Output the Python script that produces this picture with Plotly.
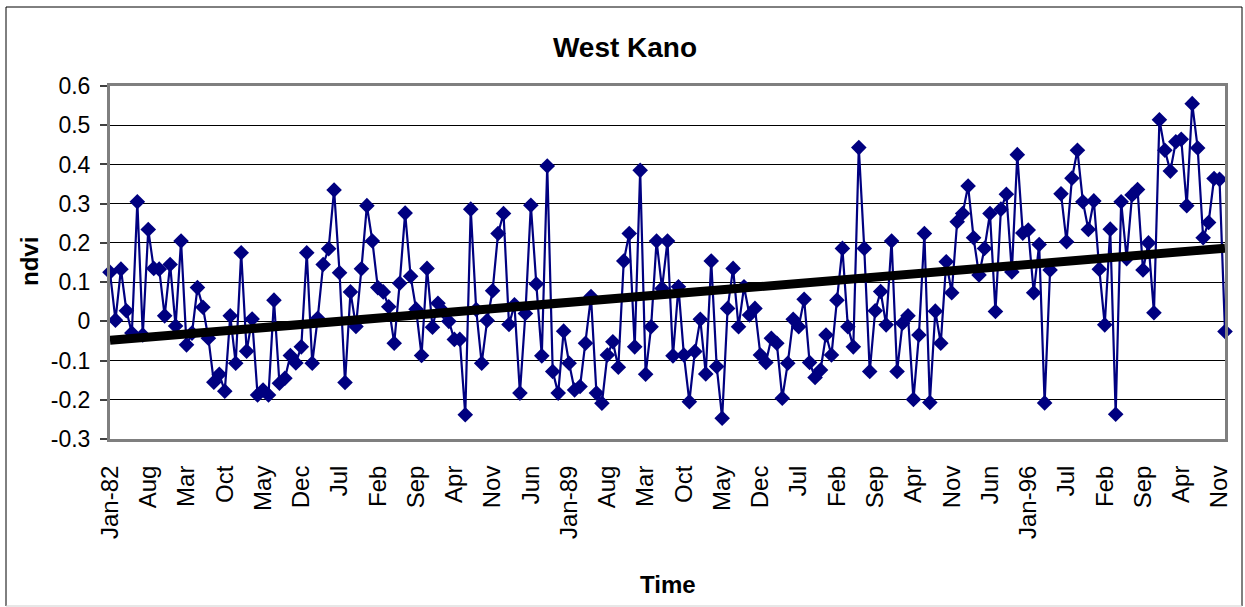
import numpy as np
import plotly.graph_objects as go

# ---------------- data ----------------
ndvi_part1 = [0.125, 0.003, 0.133, 0.027, -0.030, 0.305, -0.035, 0.234, 0.135, 0.133,
              0.014, 0.145, -0.012, 0.205, -0.060, -0.030, 0.086, 0.036, -0.043, -0.155,
              -0.135, -0.178, 0.014, -0.107, 0.175, -0.076, 0.006, -0.188, -0.175, -0.188,
              0.054, -0.158, -0.145, -0.087, -0.106, -0.065, 0.175, -0.107, 0.008, 0.145]
ndvi_part2 = [0.185, 0.335, 0.124, -0.156, 0.075, -0.013, 0.134, 0.295, 0.205, 0.086,
              0.075, 0.037, -0.056, 0.097, 0.276, 0.115, 0.031, -0.087, 0.135, -0.015,
              0.046, 0.025, 0.000, -0.046, -0.046, -0.238, 0.286, 0.030, -0.107, 0.002,
              0.078, 0.224, 0.275, -0.008, 0.042, -0.183, 0.020, 0.296, 0.095, -0.088]
ndvi_part3 = [0.396, -0.128, -0.183, -0.025, -0.107, -0.175, -0.166, -0.056, 0.063, -0.183,
              -0.209, -0.086, -0.052, -0.117, 0.154, 0.224, -0.065, 0.385, -0.135, -0.014,
              0.205, 0.084, 0.205, -0.088, 0.088, -0.086, -0.205, -0.077, 0.005, -0.134,
              0.154, -0.115, -0.247, 0.033, 0.135, -0.014, 0.088, 0.016, 0.033, -0.086]
ndvi_part4 = [-0.105, -0.043, -0.056, -0.196, -0.107, 0.005, -0.014, 0.056, -0.105, -0.143,
              -0.124, -0.035, -0.086, 0.054, 0.186, -0.014, -0.065, 0.443, 0.186, -0.128,
              0.027, 0.076, -0.009, 0.205, -0.128, -0.005, 0.014, -0.199, -0.035, 0.224,
              -0.207, 0.026, -0.056, 0.152, 0.073, 0.254, 0.275, 0.345, 0.213, 0.118]
ndvi_part5 = [0.186, 0.275, 0.025, 0.286, 0.324, 0.126, 0.425, 0.225, 0.233, 0.073,
              0.196, -0.208, 0.131, None, 0.325, 0.203, 0.365, 0.436, 0.305, 0.234,
              0.307, 0.133, -0.009, 0.235, -0.237, 0.305, 0.160, 0.322, 0.336, 0.131,
              0.200, 0.022, 0.514, 0.436, 0.383, 0.458, 0.464, 0.295, 0.555, 0.442,
              0.213, 0.252, 0.364, 0.362, -0.026]

ndvi = ndvi_part1 + ndvi_part2 + ndvi_part3 + ndvi_part4 + ndvi_part5

x_tick_labels = ["Jan-82", "Aug", "Mar", "Oct", "May", "Dec", "Jul", "Feb", "Sep", "Apr",
                 "Nov", "Jun", "Jan-89", "Aug", "Mar", "Oct", "May", "Dec", "Jul", "Feb",
                 "Sep", "Apr", "Nov", "Jun", "Jan-96", "Jul", "Feb", "Sep", "Apr", "Nov"]
y_tick_values = [-0.3, -0.2, -0.1, 0.0, 0.1, 0.2, 0.3, 0.4, 0.5, 0.6]
y_tick_labels = ["-0.3", "-0.2", "-0.1", "0", "0.1", "0.2", "0.3", "0.4", "0.5", "0.6"]

chart_title = "West Kano"
x_title = "Time"
y_title = "ndvi"

# ---------------- derived ----------------
idx = list(range(len(ndvi)))
tick_pos = list(range(0, len(ndvi), 7))[:len(x_tick_labels)]

valid = [(i, v) for i, v in zip(idx, ndvi) if v is not None]
vx = np.array([p[0] for p in valid], dtype=float)
vy = np.array([p[1] for p in valid], dtype=float)
slope, intercept = np.polyfit(vx, vy, 1)
trend_x = [idx[0], idx[-1]]
trend_y = [intercept + slope * t for t in trend_x]

FONT = "Liberation Sans, Arial, Helvetica, sans-serif"

fig = go.Figure()
fig.add_trace(go.Scatter(
    x=idx, y=ndvi, mode="lines+markers",
    line=dict(color="#000080", width=2.2),
    marker=dict(symbol="diamond", size=12, color="#000080"),
    connectgaps=False, cliponaxis=False, showlegend=False,
))
fig.add_trace(go.Scatter(
    x=trend_x, y=trend_y, mode="lines",
    line=dict(color="black", width=9),
    cliponaxis=False, showlegend=False, hoverinfo="skip",
))

L, R, T, B = 110, 20, 86, 168
W, H = 1245, 607
pw, ph = W - L - R, H - T - B


def px(xp):
    return (xp - L) / pw


def py(yp):
    return (H - B - yp) / ph


fig.update_layout(
    width=W, height=H,
    margin=dict(l=L, r=R, t=T, b=B, pad=0),
    paper_bgcolor="white", plot_bgcolor="white",
    font=dict(family=FONT, color="black"),
    title=dict(text=chart_title, x=625 / W, xref="container", xanchor="center",
               y=1 - 47 / H, yref="container", yanchor="middle",
               font=dict(size=28, family=FONT, color="black", weight="bold")),
    xaxis=dict(
        range=[idx[0], idx[-1]], tickmode="array", tickvals=tick_pos, ticktext=x_tick_labels,
        tickangle=-90, tickfont=dict(size=24, family=FONT, color="black"),
        showgrid=False, zeroline=False, ticks="", ticklabelstandoff=14,
        showline=True, linecolor="#7f7f7f", linewidth=3, mirror=True,
    ),
    yaxis=dict(
        range=[-0.3, 0.6], tickmode="array", tickvals=y_tick_values, ticktext=y_tick_labels,
        tickfont=dict(size=23, family=FONT, color="black"),
        showgrid=True, gridcolor="black", gridwidth=1, zeroline=False,
        ticks="outside", ticklen=7, tickwidth=1.5, tickcolor="#404040", ticklabelstandoff=5,
        showline=True, linecolor="#7f7f7f", linewidth=3, mirror=True,
    ),
    annotations=[
        dict(text=x_title, x=px(667.5), y=py(584), xref="paper", yref="paper",
             showarrow=False, xanchor="center", yanchor="middle",
             font=dict(size=24, family=FONT, color="black", weight="bold")),
        dict(text=y_title, x=px(29), y=py(262), xref="paper", yref="paper",
             showarrow=False, xanchor="center", yanchor="middle", textangle=-90,
             font=dict(size=24, family=FONT, color="black", weight="bold")),
    ],
    shapes=[
        dict(type="line", xref="paper", yref="paper", x0=px(6), x1=px(6), y0=py(7), y1=py(606),
             line=dict(color="black", width=1)),
        dict(type="line", xref="paper", yref="paper", x0=px(6), x1=px(1242), y0=py(7), y1=py(7),
             line=dict(color="black", width=1)),
        dict(type="line", xref="paper", yref="paper", x0=px(1242), x1=px(1242), y0=py(7), y1=py(606),
             line=dict(color="black", width=1)),
        dict(type="line", xref="paper", yref="paper", x0=px(6), x1=px(1242), y0=py(606), y1=py(606),
             line=dict(color="#cfcfcf", width=1)),
    ],
)

fig.write_html("out.html", config={"displayModeBar": False},
               post_script="document.body.style.margin='0';")
